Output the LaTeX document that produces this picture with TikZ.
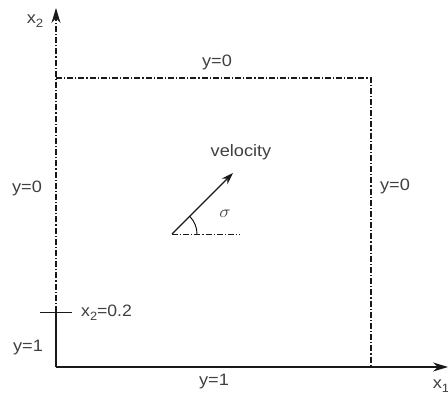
\documentclass[tikz,border=0pt]{standalone}
\usepackage{fontspec}
\setmainfont{Liberation Sans}
\usetikzlibrary{arrows.meta}
\begin{document}
\begin{tikzpicture}[x=1pt,y=-1pt,
  lbl/.style={text=black!75,font=\fontsize{16.5}{18}\selectfont,inner sep=0pt,xscale=1.1},
  dd/.style={line width=1.1pt,black!90,dash pattern=on 6pt off 2pt on 1.2pt off 2pt},
  ax/.style={line width=1.2pt,black!90}]
\useasboundingbox (0,0) rectangle (448,401);
\coordinate (O) at (56,367);
\coordinate (X2) at (56,8);
\coordinate (X1) at (448,367);
\coordinate (T) at (56,312);
\coordinate (TL) at (40,312);
\coordinate (TR) at (72,312);
\coordinate (A) at (56,78);
\coordinate (B) at (371,78);
\coordinate (C) at (371,367);
\coordinate (P) at (172,234);
\coordinate (Q) at (233,173);
\coordinate (R) at (240,234);
% axes
\draw[ax] (T) -- (O);
\draw[ax,-{Stealth[length=15pt,width=9pt]}] (O) -- (X1);
\draw[dd,-{Stealth[length=15pt,width=9pt]}] (T) -- (X2);
\draw[ax,line width=0.9pt] (TL) -- (TR);
% boundary
\draw[dd] (A) -- (B) -- (C);
% velocity
\draw[line width=1.2pt,black!90,-{Stealth[length=12pt,width=8pt]}] (P) -- (Q);
\draw[dd,line width=0.9pt] (P) -- (R);
\draw[line width=0.9pt] ([xshift=25pt]P) arc[start angle=0,end angle=45,radius=25pt];
% labels
\node[lbl] (lx2) at (35,21) {x\raisebox{-0.45ex}{\fontsize{12}{13}\selectfont 2}};
\node[lbl] (lx1) at (441,386) {x\raisebox{-0.45ex}{\fontsize{12}{13}\selectfont 1}};
\node[lbl] (ltop) at (217,62) {y=0};
\node[lbl] (lleft) at (27,188) {y=0};
\node[lbl] (lright) at (395,186) {y=0};
\node[lbl] (lvel) at (241,152) {velocity};
\node[lbl,font=\fontsize{18}{19}\selectfont] (lsig) at (225,214) {$\sigma$};
\node[lbl,anchor=west,xscale=0.97] (lx02) at (81,313) {x\raisebox{-0.45ex}{\fontsize{12}{13}\selectfont 2}=0.2};
\node[lbl] (ly1l) at (28,348) {y=1};
\node[lbl] (ly1b) at (214,382) {y=1};
\end{tikzpicture}
\end{document}
